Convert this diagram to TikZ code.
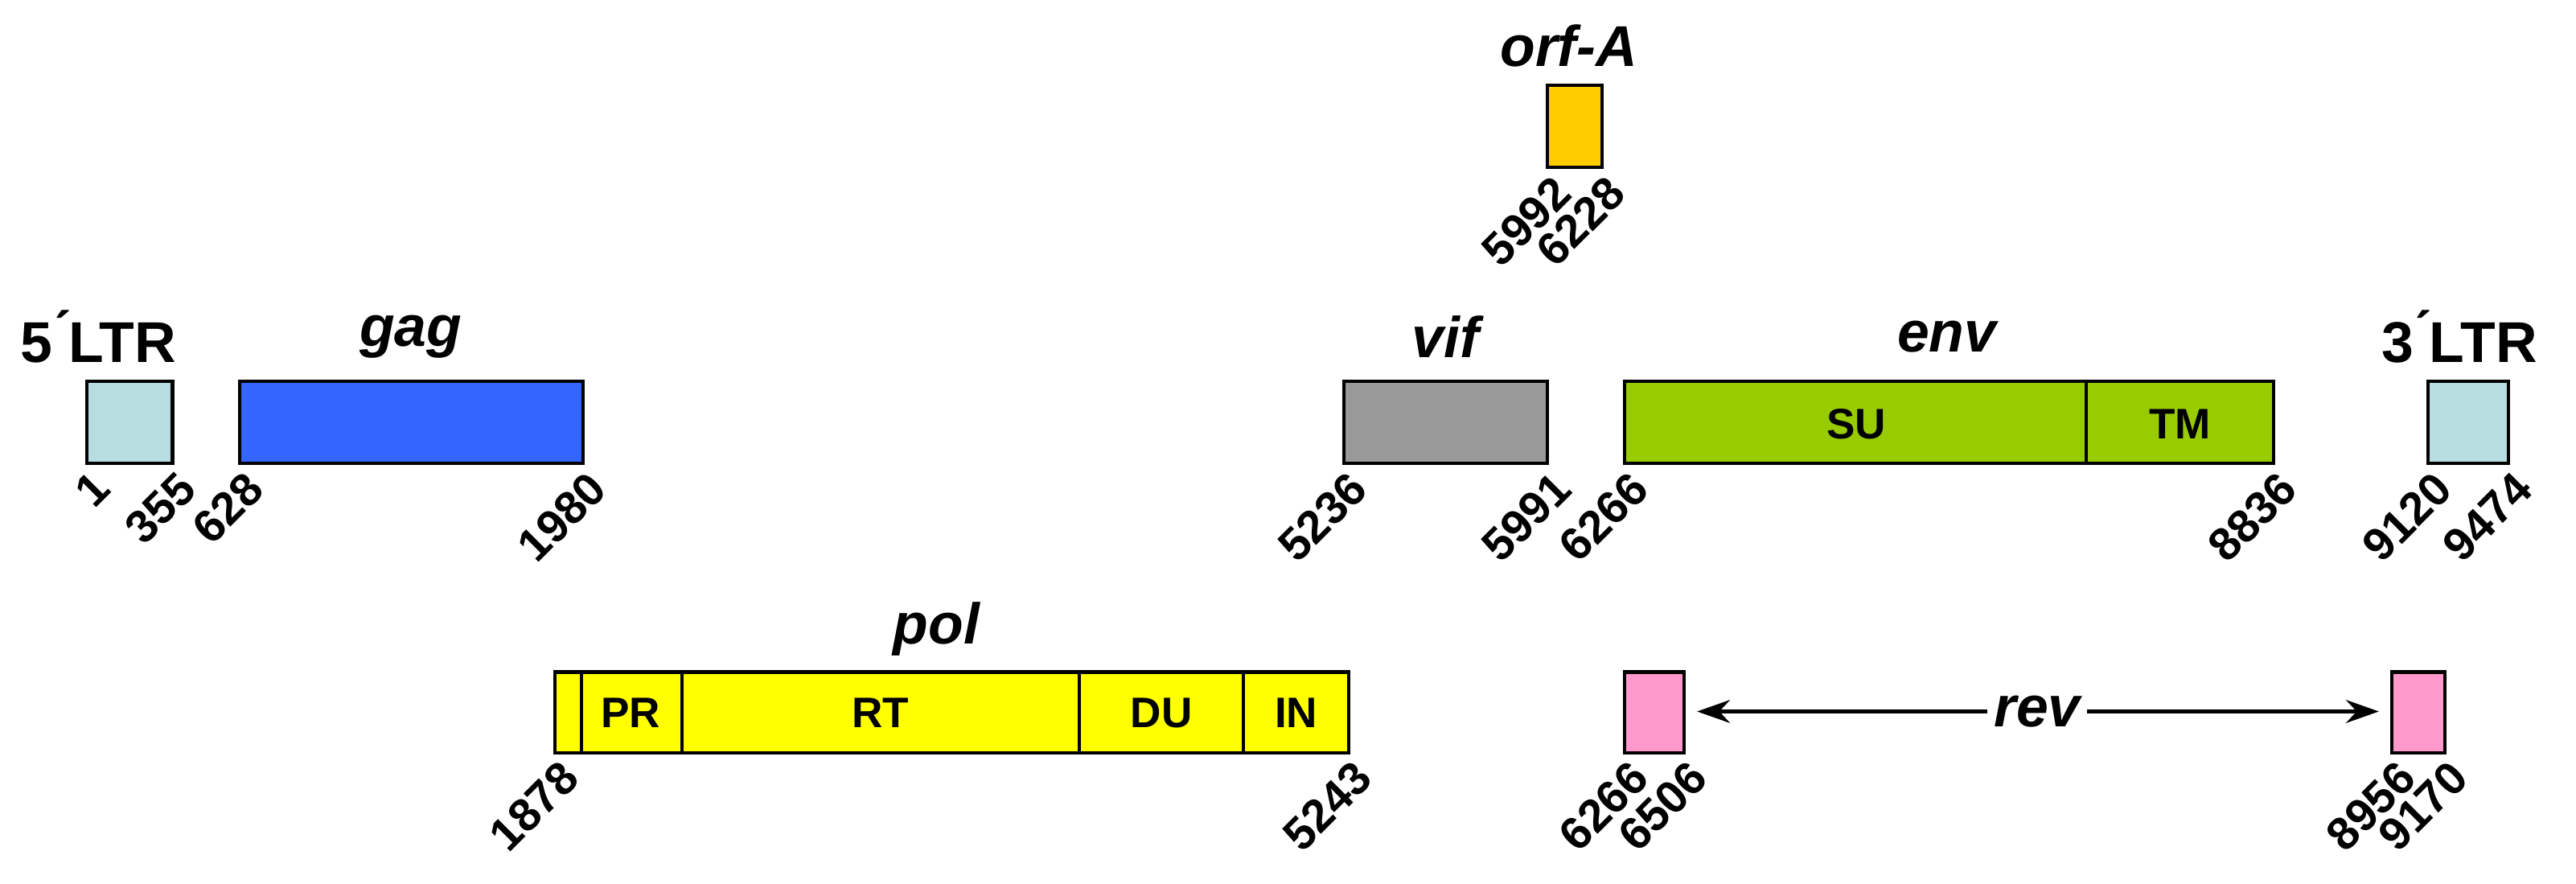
\documentclass[tikz,border=0pt]{standalone}
\usepackage{fontspec}
\setmainfont{Liberation Sans}
\usetikzlibrary{arrows.meta}
\begin{document}
\begin{tikzpicture}[x=1pt,y=-1pt,
  box/.style={draw=black,line width=2pt},
  num/.style={font=\fontsize{28}{28}\selectfont\bfseries,rotate=45,anchor=north east,inner sep=1pt},
  gene/.style={font=\fontsize{35}{35}\selectfont\bfseries\itshape},
  ltr/.style={font=\fontsize{35}{35}\selectfont\bfseries},
  dom/.style={font=\fontsize{26}{26}\selectfont\bfseries}]
\useasboundingbox (0,0) rectangle (1568,538);
\definecolor{ltrc}{HTML}{B7DDE0}
\definecolor{gagc}{HTML}{3366FF}
\definecolor{vifc}{HTML}{999999}
\definecolor{envc}{HTML}{99CC00}
\definecolor{orfc}{HTML}{FFCC00}
\definecolor{polc}{HTML}{FFFF00}
\definecolor{revc}{HTML}{FF99CC}
% 5'LTR
\draw[box,fill=ltrc] (53,232) rectangle (105,282);
\node[ltr] (l5) at (60,205) {5\'{}LTR};
\node[num] (n1) at (55,284) {1};
\node[num] (n355) at (107,284) {355};
% gag
\draw[box,fill=gagc] (146,232) rectangle (355,282);
\node[gene] (gag) at (250,205) {gag};
\node[num] (n628) at (148,284) {628};
\node[num] (n1980) at (357,284) {1980};
% vif
\draw[box,fill=vifc] (818,232) rectangle (942,282);
\node[gene] (vif) at (880,205) {vif};
\node[num] (n5236) at (820,284) {5236};
\node[num] (n5991) at (944,284) {5991};
% env
\draw[box,fill=envc] (989,232) rectangle (1384,282);
\draw[box] (1270,232) -- (1270,282);
\node[dom] (su) at (1130,258) {SU};
\node[dom] (tm) at (1327,258) {TM};
\node[gene] (env) at (1185,205) {env};
\node[num] (n6266) at (991,284) {6266};
\node[num] (n8836) at (1386,284) {8836};
% 3'LTR
\draw[box,fill=ltrc] (1478,232) rectangle (1527,282);
\node[ltr] (l3) at (1497,205) {3\'{}LTR};
\node[num] (n9120) at (1480,284) {9120};
\node[num] (n9474) at (1529,284) {9474};
% orf-A
\draw[box,fill=orfc] (942,52) rectangle (975,102);
\node[gene] (orfa) at (955,28) {orf-A};
\node[num] (n5992) at (944,104) {5992};
\node[num] (n6228) at (977,104) {6228};
% pol
\draw[box,fill=polc] (338,409) rectangle (821,458);
\foreach \xx in {354,415,657,757} \draw[box] (\xx,409) -- (\xx,458);
\node[dom] (pr) at (384,434) {PR};
\node[dom] (rt) at (536,434) {RT};
\node[dom] (du) at (707,434) {DU};
\node[dom] (in) at (789,434) {IN};
\node[gene] (pol) at (570,383) {pol};
\node[num] (n1878) at (340,460) {1878};
\node[num] (n5243) at (823,460) {5243};
% rev
\draw[box,fill=revc] (989,409) rectangle (1025,458);
\draw[box,fill=revc] (1456,409) rectangle (1488,458);
\coordinate (ra) at (1033,433);
\coordinate (rb) at (1448,433);
\draw[line width=2.5pt,{Stealth[length=20pt,width=14pt]}-{Stealth[length=20pt,width=14pt]}] (ra) -- (rb);
\node[gene,fill=white,inner xsep=4pt] (rev) at (1240,433) {rev};
\node[num] (n6266b) at (991,460) {6266};
\node[num] (n6506) at (1027,460) {6506};
\node[num] (n8956) at (1458,460) {8956};
\node[num] (n9170) at (1490,460) {9170};
\end{tikzpicture}
\end{document}
